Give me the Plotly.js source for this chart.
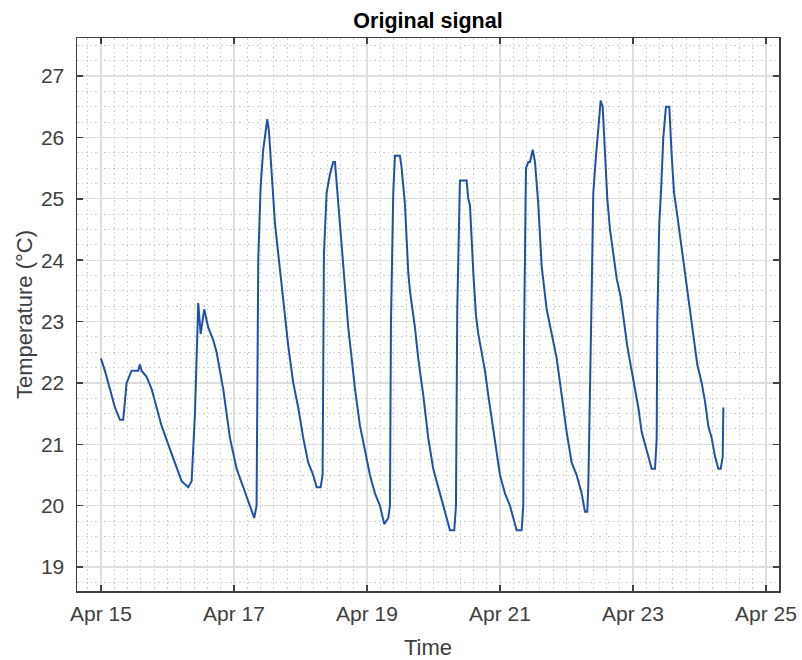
<!DOCTYPE html>
<html>
<head>
<meta charset="utf-8">
<script src="https://cdn.plot.ly/plotly-3.0.1.min.js"></script>
<style>html,body{margin:0;padding:0;background:#fff;}#chart{width:802px;height:660px;}</style>
</head>
<body>
<div id="chart"></div>
<script>
// Time stamps
const times = [
 '2024-04-15 00:00','2024-04-15 01:26','2024-04-15 03:15','2024-04-15 05:03','2024-04-15 06:52','2024-04-15 08:03',
 '2024-04-15 09:16','2024-04-15 11:05','2024-04-15 13:28','2024-04-15 14:04','2024-04-15 14:41','2024-04-15 16:29',
 '2024-04-15 18:18','2024-04-15 20:06','2024-04-15 21:54','2024-04-16 00:17','2024-04-16 02:40','2024-04-16 05:07',
 '2024-04-16 07:30','2024-04-16 08:44','2024-04-16 09:56','2024-04-16 11:07','2024-04-16 11:59','2024-04-16 13:16',
 '2024-04-16 14:44','2024-04-16 16:32','2024-04-16 17:45','2024-04-16 20:08','2024-04-16 22:34','2024-04-17 00:59',
 '2024-04-17 03:22','2024-04-17 05:47','2024-04-17 07:19','2024-04-17 08:10','2024-04-17 08:46','2024-04-17 09:38',
 '2024-04-17 10:34','2024-04-17 11:27','2024-04-17 12:01','2024-04-17 12:38','2024-04-17 13:36','2024-04-17 14:48',
 '2024-04-17 16:00','2024-04-17 17:13','2024-04-17 18:25','2024-04-17 19:36','2024-04-17 21:24','2024-04-17 23:12',
 '2024-04-18 01:01','2024-04-18 02:49','2024-04-18 04:36','2024-04-18 05:50','2024-04-18 07:17','2024-04-18 08:00',
 '2024-04-18 08:28','2024-04-18 09:27','2024-04-18 10:39','2024-04-18 11:50','2024-04-18 12:27','2024-04-18 13:38',
 '2024-04-18 14:52','2024-04-18 16:03','2024-04-18 17:15','2024-04-18 18:29','2024-04-18 19:41','2024-04-18 21:29',
 '2024-04-18 23:17','2024-04-19 01:05','2024-04-19 02:53','2024-04-19 04:41','2024-04-19 06:14','2024-04-19 07:41',
 '2024-04-19 08:18','2024-04-19 08:40','2024-04-19 09:29','2024-04-19 10:06','2024-04-19 11:54','2024-04-19 12:31',
 '2024-04-19 13:43','2024-04-19 14:54','2024-04-19 15:31','2024-04-19 17:19','2024-04-19 18:30','2024-04-19 20:19',
 '2024-04-19 22:07','2024-04-19 23:55','2024-04-20 01:44','2024-04-20 03:32','2024-04-20 04:45','2024-04-20 05:57',
 '2024-04-20 07:30','2024-04-20 08:07','2024-04-20 08:35','2024-04-20 09:18','2024-04-20 09:33','2024-04-20 10:45',
 '2024-04-20 11:58','2024-04-20 12:33','2024-04-20 13:10','2024-04-20 14:22','2024-04-20 15:20','2024-04-20 16:10',
 '2024-04-20 17:24','2024-04-20 18:35','2024-04-20 19:46','2024-04-20 21:00','2024-04-20 22:12','2024-04-21 00:00',
 '2024-04-21 01:48','2024-04-21 03:36','2024-04-21 04:48','2024-04-21 06:01','2024-04-21 07:49','2024-04-21 08:24',
 '2024-04-21 08:40','2024-04-21 09:23','2024-04-21 10:13','2024-04-21 10:50','2024-04-21 11:49','2024-04-21 12:38',
 '2024-04-21 13:50','2024-04-21 15:03','2024-04-21 16:51','2024-04-21 18:39','2024-04-21 20:28','2024-04-21 22:16',
 '2024-04-22 00:04','2024-04-22 01:52','2024-04-22 03:40','2024-04-22 05:29','2024-04-22 06:40','2024-04-22 07:30',
 '2024-04-22 07:52','2024-04-22 09:06','2024-04-22 09:40','2024-04-22 10:39','2024-04-22 11:28','2024-04-22 12:20',
 '2024-04-22 13:03','2024-04-22 13:54','2024-04-22 14:44','2024-04-22 15:42','2024-04-22 16:54','2024-04-22 18:07',
 '2024-04-22 19:34','2024-04-22 20:45','2024-04-22 21:56','2024-04-22 23:31','2024-04-23 00:43','2024-04-23 01:55',
 '2024-04-23 03:08','2024-04-23 04:19','2024-04-23 05:31','2024-04-23 06:45','2024-04-23 07:57','2024-04-23 08:33',
 '2024-04-23 08:46','2024-04-23 09:29','2024-04-23 10:06','2024-04-23 10:56','2024-04-23 11:54','2024-04-23 13:06',
 '2024-04-23 13:58','2024-04-23 14:48','2024-04-23 15:46','2024-04-23 16:58','2024-04-23 18:09','2024-04-23 19:22',
 '2024-04-23 20:49','2024-04-23 22:00','2024-04-23 23:12','2024-04-24 00:47','2024-04-24 01:59','2024-04-24 03:10',
 '2024-04-24 04:24','2024-04-24 05:36','2024-04-24 06:48','2024-04-24 07:39','2024-04-24 08:22','2024-04-24 08:36'
];
// Temperature values (°C)
const temperature = [
 22.4,22.2,21.9,21.6,21.4,21.4,
 22.0,22.2,22.2,22.3,22.2,22.1,
 21.9,21.6,21.3,21.0,20.7,20.4,
 20.3,20.4,21.5,23.3,22.8,23.2,
 22.9,22.7,22.5,21.9,21.1,20.6,
 20.3,20.0,19.8,20.0,24.0,25.2,
 25.8,26.1,26.3,26.1,25.5,24.6,
 24.1,23.6,23.1,22.6,22.0,21.6,
 21.1,20.7,20.5,20.3,20.3,20.5,
 24.1,25.1,25.4,25.6,25.6,24.9,
 24.2,23.5,22.9,22.4,21.9,21.3,
 20.9,20.5,20.2,20.0,19.7,19.8,
 20.0,23.0,25.1,25.7,25.7,25.5,
 24.9,23.8,23.5,22.9,22.4,21.8,
 21.1,20.6,20.3,20.0,19.8,19.6,
 19.6,20.0,23.2,24.9,25.3,25.3,
 25.3,25.0,24.9,23.8,23.1,22.8,
 22.5,22.2,21.8,21.4,21.0,20.5,
 20.2,20.0,19.8,19.6,19.6,20.0,
 22.7,25.5,25.6,25.6,25.8,25.6,
 24.9,23.9,23.2,22.8,22.4,21.8,
 21.2,20.7,20.5,20.2,19.9,19.9,
 20.3,23.5,25.1,25.7,26.2,26.6,
 26.5,25.7,25.0,24.5,24.1,23.7,
 23.4,23.0,22.6,22.2,21.9,21.6,
 21.2,21.0,20.8,20.6,20.6,21.1,
 23.0,24.6,25.1,26.0,26.5,26.5,
 25.7,25.1,24.8,24.4,24.0,23.6,
 23.1,22.7,22.3,22.0,21.7,21.3,
 21.1,20.8,20.6,20.6,20.8,21.6
];
const xTickStart = '2024-04-15';
const xRange = ['2024-04-14 15:22','2024-04-25 04:41'];
const yRange = [18.61, 27.62];
const yTicks = [19,20,21,22,23,24,25,26,27];

const DAY = 86400000;
const axisCol = '#404040';
const font = 'Liberation Sans, Arial, Helvetica, sans-serif';

const trace = {
  x: times, y: temperature, type: 'scatter', mode: 'lines',
  line: {color: '#2151a6', width: 2, shape: 'linear'},
  hoverinfo: 'x+y'
};

const layout = {
  width: 802, height: 660,
  margin: {l: 77, r: 23, t: 38, b: 69, pad: 0},
  paper_bgcolor: '#ffffff', plot_bgcolor: '#ffffff',
  showlegend: false,
  font: {family: font, color: axisCol, size: 21},
  title: {text: '<b>Original signal</b>', font: {family: font, size: 21.5, color: '#000000'},
          x: 0.5, xref: 'paper', xanchor: 'center', y: 1 - 20/660, yref: 'container', yanchor: 'middle'},
  xaxis: {
    type: 'date', range: xRange,
    tick0: xTickStart, dtick: 2*DAY, tickformat: '%b %d',
    ticks: 'inside', ticklen: 6, tickwidth: 1.5, tickcolor: axisCol,
    showline: true, linecolor: axisCol, linewidth: 1.5, mirror: 'ticks',
    showgrid: true, gridcolor: '#dedede', gridwidth: 1.2,
    zeroline: false, ticklabelstandoff: 3,
    tickfont: {family: font, size: 21, color: axisCol},
    title: {text: 'Time', font: {family: font, size: 22, color: axisCol}, standoff: 18},
    minor: {tick0: xTickStart, dtick: 0.2*DAY, showgrid: true, gridcolor: '#cccccc', griddash: '1.5px,3px', gridwidth: 1, ticks: ''}
  },
  yaxis: {
    range: yRange, tickvals: yTicks,
    ticks: 'inside', ticklen: 6, tickwidth: 1.5, tickcolor: axisCol,
    showline: true, linecolor: axisCol, linewidth: 1.5, mirror: 'ticks',
    showgrid: true, gridcolor: '#dedede', gridwidth: 1.2,
    zeroline: false, ticklabelstandoff: 7,
    tickfont: {family: font, size: 21, color: axisCol},
    title: {text: 'Temperature (°C)', font: {family: font, size: 22, color: axisCol}, standoff: 2},
    minor: {dtick: 0.25, tick0: 19, showgrid: true, gridcolor: '#cccccc', griddash: '1.5px,3px', gridwidth: 1, ticks: ''}
  }
};

Plotly.newPlot('chart', [trace], layout, {displayModeBar: false, staticPlot: true});
</script>
</body>
</html>
